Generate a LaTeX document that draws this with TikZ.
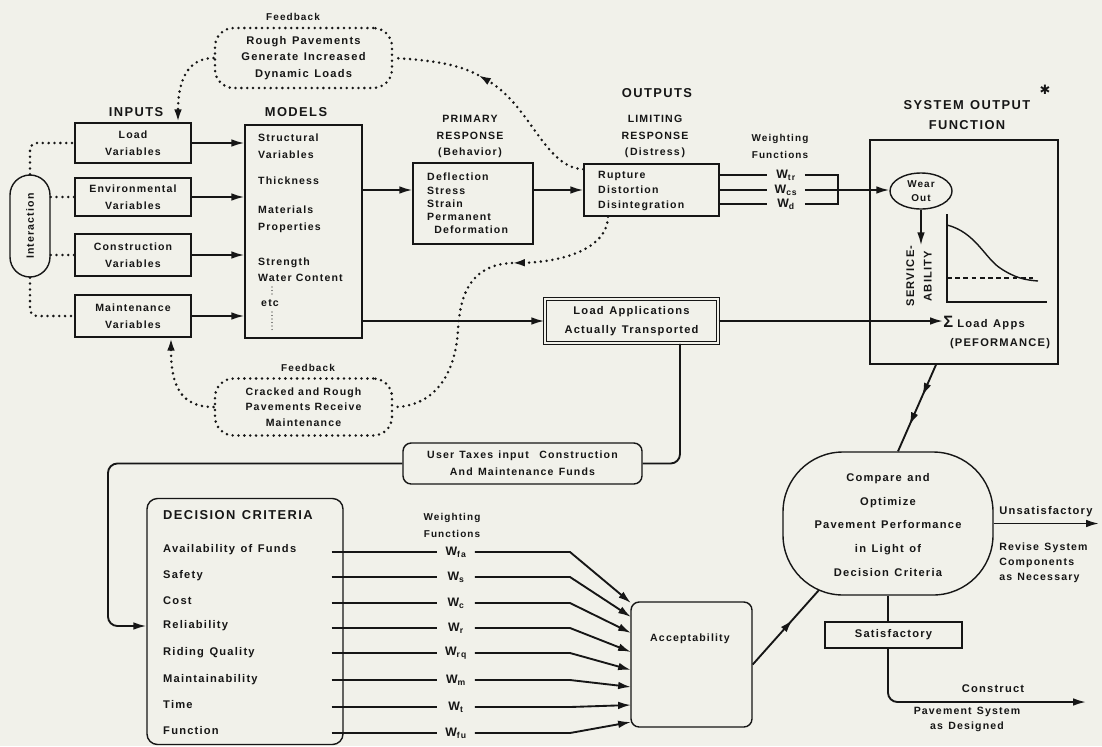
\documentclass[tikz,border=0pt]{standalone}
\usepackage{fontspec}
\setmainfont{Liberation Sans}[UprightFont=* Bold, LetterSpace=11.0]
\newfontfamily\djv{DejaVu Sans}
\usetikzlibrary{arrows.meta,decorations.markings,shapes.geometric}
\definecolor{bgc}{RGB}{241,241,234}
\definecolor{ink}{RGB}{22,22,22}
\newcommand\fBody{\fontsize{9.5}{14.5}\selectfont}
\newcommand\fBox{\fontsize{9}{14.5}\selectfont}
\newcommand\fSmall{\fontsize{8.5}{14.5}\selectfont}
\newcommand\fTitle{\fontsize{11}{17}\selectfont}
\newcommand\fWlab{\fontsize{10.5}{12}\selectfont}
\tikzset{
  box/.style={draw=ink, line width=1.2pt, inner sep=0pt, align=center, text=ink, font=\fBox},
  rbox/.style={box, rounded corners=7pt},
  lbl/.style={inner sep=0pt, align=center, text=ink},
  dots/.style={draw=ink, line width=2.4pt, line cap=round, dash pattern=on 0pt off 5pt},
  cloudbox/.style={dots, rounded corners=16pt, inner sep=0pt, align=center, text=ink},
  lnk/.style={draw=ink, line width=1.6pt},
  ltip/.tip={Latex[length=11pt,width=6.5pt]},
  arr/.style={lnk, -ltip},
  darr/.style={dots, -ltip},
  wlab/.style={lbl, minimum width=1.12cm, font=\fWlab},
  midarr/.style={postaction={decorate}, decoration={markings, mark=at position #1 with {\arrow{ltip}}}},
  twoarr/.style={postaction={decorate}, decoration={markings, mark=at position 0.36 with {\arrow{ltip}}, mark=at position 0.7 with {\arrow{ltip}}}},
}
\begin{document}
\begin{tikzpicture}[x=0.03cm, y=-0.03cm, font=\fBody]
\fill[bgc] (0,0) rectangle (1102,746);
\useasboundingbox (0,0) rectangle (1102,746);

% ---------- titles ----------
\node[lbl, font=\fTitle] (tin) at (136,112) {INPUTS};
\node[lbl, font=\fTitle] (tmod) at (296,112) {MODELS};
\node[lbl, font=\fTitle] (tout) at (657,93) {OUTPUTS};
\node[lbl, font=\fontsize{9}{14}\selectfont] (tprim) at (470,136.5) {PRIMARY\\RESPONSE\\(\,Behavior\,)};
\node[lbl, font=\fontsize{9}{14}\selectfont] (tlim) at (655,136.5) {LIMITING\\RESPONSE\\(\,Distress\,)};
\node[lbl, font=\fSmall] (twf1) at (780,146.5) {Weighting\\Functions};
\node[lbl, font=\fTitle] (tsys) at (967,115) {SYSTEM\enspace OUTPUT\\FUNCTION};
\node[lbl, font=\djv\fontsize{11}{11}\selectfont] (star) at (1045,90) {✱};

% ---------- top feedback ----------
\node[lbl, font=\fSmall] (fb1lbl) at (293,17) {Feedback};
\node[cloudbox, minimum width=5.31cm, minimum height=1.8cm, font=\fontsize{9.5}{14}\selectfont] (fb1) at (303.5,58) {Rough\enspace Pavements\\Generate\enspace Increased\\Dynamic\enspace Loads};

% ---------- inputs ----------
\node[box, minimum width=3.48cm, minimum height=1.2cm] (load) at (133,143) {Load\\Variables};
\node[box, minimum width=3.48cm, minimum height=1.14cm] (env) at (133,197) {Environmental\\Variables};
\node[box, minimum width=3.48cm, minimum height=1.26cm] (constr) at (133,255) {Construction\\Variables};
\node[box, minimum width=3.48cm, minimum height=1.26cm] (maint) at (133,316) {Maintenance\\Variables};

\node[box, rounded corners=0.6cm, minimum width=1.2cm, minimum height=3.06cm] (pill) at (30,226) {};
\node[lbl, rotate=90, font=\fBox] (pilltxt) at (30,226) {Interaction};

% ---------- models ----------
\node[box, minimum width=3.51cm, minimum height=6.39cm] (models) at (303.5,231.5) {};
\node[lbl, anchor=west, align=left, font=\fBox] (m1) at (258,146.5) {Structural\\Variables};
\node[lbl, anchor=west, align=left, font=\fBox] (m2) at (258,181) {Thickness};
\node[lbl, anchor=west, align=left, font=\fBox] (m3) at (258,219.5) {Materials\\Properties};
\node[lbl, anchor=west, align=left, font=\fontsize{9}{13.6}\selectfont] (m4) at (258,270) {Strength\\Water Content};
\node[lbl, anchor=west, font=\fBox] (m5) at (261,303) {etc};
\draw[ink, line width=1pt, line cap=round, dash pattern=on 0pt off 3pt] (272,287) -- (272,297);
\draw[ink, line width=1pt, line cap=round, dash pattern=on 0pt off 3pt] (272,312) -- (272,331);

% ---------- responses ----------
\node[box, minimum width=3.6cm, minimum height=2.43cm] (prim) at (473,203.5) {};
\node[lbl, anchor=west, align=left, font=\fontsize{9}{11.3}\selectfont] (primtxt) at (427,203.5) {Deflection\\Stress\\Strain\\Permanent\\\hspace*{6pt}Deformation};
\node[box, minimum width=4.05cm, minimum height=1.56cm] (lim) at (651.5,190) {};
\node[lbl, anchor=west, align=left, font=\fontsize{9}{12.8}\selectfont] (limtxt) at (598,190.5) {Rupture\\Distortion\\Disintegration};

\node[wlab] (wtr) at (786,175) {W\textsubscript{tr}};
\node[wlab] (wcs) at (786,190) {W\textsubscript{cs}};
\node[wlab] (wd)  at (786,204) {W\textsubscript{d}};
\coordinate (brk) at (838,190);

% ---------- system output ----------
\node[box, minimum width=5.64cm, minimum height=6.72cm] (sys) at (964,252) {};
\node[draw=ink, line width=1.2pt, ellipse, minimum width=1.86cm, minimum height=1.08cm, inner sep=0pt, align=center, text=ink, font=\fontsize{8.5}{12}\selectfont] (wear) at (921,191) {Wear\\Out};
\node[lbl, rotate=90, font=\fontsize{9.5}{15}\selectfont] (serv) at (919,276) {SERVICE-\\ABILITY};
\draw[ink, line width=1.2pt] (947,214) -- (947,302) -- (1047,302);
\draw[ink, line width=1.2pt] (947,225) .. controls (975,232) and (985,258) .. (1000,268) .. controls (1015,278) and (1025,280) .. (1038,281);
\draw[ink, line width=1.1pt, dash pattern=on 4pt off 3pt] (947,278) -- (1033,278);
\node[lbl, anchor=west, font=\fBody] (sigma) at (943,323) {{\fontsize{14}{14}\selectfont Σ} Load\enspace Apps};
\node[lbl, font=\fBody] (perf) at (1000,344) {(PEFORMANCE)};

% ---------- load applications ----------
\node[box, double=bgc, line width=0.9pt, double distance=1.5pt, minimum width=5.2cm, minimum height=1.34cm, font=\fontsize{9.5}{16}\selectfont] (la) at (631.5,321) {Load\enspace Applications\\Actually\enspace Transported};

% ---------- bottom feedback ----------
\node[lbl, font=\fSmall] (fb2lbl) at (308,368) {Feedback};
\node[cloudbox, minimum width=5.31cm, minimum height=1.71cm, font=\fontsize{9}{13.3}\selectfont] (fb2) at (303.5,407) {Cracked and Rough\\Pavements Receive\\Maintenance};

% ---------- user taxes ----------
\node[rbox, minimum width=7.17cm, minimum height=1.23cm, font=\fontsize{9}{14.5}\selectfont] (ut) at (522.5,463.5) {User\enspace Taxes\enspace input\quad Construction\\And\enspace Maintenance\enspace Funds};

% ---------- decision criteria ----------
\node[rbox, rounded corners=9pt, minimum width=5.88cm, minimum height=7.38cm] (dec) at (245,621.5) {};
\node[lbl, anchor=west, font=\fTitle] (dectitle) at (163,515) {DECISION\enspace CRITERIA};
\node[lbl, anchor=west, font=\fBody] (c1) at (163,550) {Availability\enspace of\enspace Funds};
\node[lbl, anchor=west, font=\fBody] (c2) at (163,576) {Safety};
\node[lbl, anchor=west, font=\fBody] (c3) at (163,601) {Cost};
\node[lbl, anchor=west, font=\fBody] (c4) at (163,626) {Reliability};
\node[lbl, anchor=west, font=\fBody] (c5) at (163,653) {Riding\enspace Quality};
\node[lbl, anchor=west, font=\fBody] (c6) at (163,680) {Maintainability};
\node[lbl, anchor=west, font=\fBody] (c7) at (163,705) {Time};
\node[lbl, anchor=west, font=\fBody] (c8) at (163,731) {Function};

\node[lbl, font=\fSmall] (twf2) at (452,525) {Weighting\\Functions};
\node[wlab] (w1) at (456,552) {W\textsubscript{fa}};
\node[wlab] (w2) at (456,577) {W\textsubscript{s}};
\node[wlab] (w3) at (456,603) {W\textsubscript{c}};
\node[wlab] (w4) at (456,628) {W\textsubscript{r}};
\node[wlab] (w5) at (456,653) {W\textsubscript{rq}};
\node[wlab] (w6) at (456,680) {W\textsubscript{m}};
\node[wlab] (w7) at (456,707) {W\textsubscript{t}};
\node[wlab] (w8) at (456,733) {W\textsubscript{fu}};

\node[rbox, minimum width=3.63cm, minimum height=3.75cm] (acc) at (691.5,664.5) {};
\node[lbl, font=\fBox] (acctxt) at (690,639) {Acceptability};
\coordinate (turn) at (570,0);
\coordinate (t1) at (631,603);
\coordinate (t2) at (631,617);
\coordinate (t3) at (631,633);
\coordinate (t4) at (631,652);
\coordinate (t5) at (631,670);
\coordinate (t6) at (631,687);
\coordinate (t7) at (631,705);
\coordinate (t8) at (631,722);

% ---------- compare ----------
\node[box, rounded corners=1.8cm, minimum width=6.3cm, minimum height=4.29cm] (cmp) at (888,523.5) {};
\node[lbl, font=\fontsize{9.5}{20.3}\selectfont] (cmptxt) at (888,525) {Compare\enspace and\\Optimize\\Pavement\enspace Performance\\in\enspace Light\enspace of\\Decision\enspace Criteria};
\coordinate (cmpin) at (819,590);
\coordinate (unsEnd) at (1099,526);
\node[lbl, anchor=west, font=\fBody] (unsat) at (999,512) {Unsatisfactory};
\node[lbl, anchor=west, align=left, font=\fontsize{9}{12.8}\selectfont] (revise) at (999,563) {Revise\enspace System\\Components\\as\enspace Necessary};
\node[box, minimum width=4.11cm, minimum height=0.78cm, font=\fBody] (sat) at (893.5,635) {Satisfactory};
\coordinate (conEnd) at (1086,702);
\node[lbl, font=\fBody] (construct) at (993,689) {Construct};
\node[lbl, font=\fontsize{9}{13}\selectfont] (pavsys) at (967,719.5) {Pavement\enspace System\\as\enspace Designed};

% ================= connectors =================
\draw[arr] (load.east) -- (load.east -| models.west);
\draw[arr] (env.east) -- (env.east -| models.west);
\draw[arr] (constr.east) -- (constr.east -| models.west);
\draw[arr] (maint.east) -- (maint.east -| models.west);
\draw[arr] (models.east |- lim.west) -- (prim.west |- lim.west);
\draw[arr] (prim.east |- lim.west) -- (lim.west);
\draw[arr] (models.east |- la.west) -- (la.west);
\draw[arr] (la.east) -- (la.east -| sigma.west);

\draw[lnk] (lim.east |- wtr) -- (wtr.west);
\draw[lnk] (lim.east |- wcs) -- (wcs.west);
\draw[lnk] (lim.east |- wd) -- (wd.west);
\draw[lnk] (wtr.east) -| (brk);
\draw[lnk] (wd.east) -| (brk);
\draw[arr] (wcs.east) -- (wcs.east -| wear.west);
\draw[arr] (wear.south) -- (wear.south |- serv.east);

\draw[lnk, rounded corners=8pt] ([xshift=1.455cm]la.south) |- (ut.east);
\coordinate (loopc) at (108,626);
\draw[arr, rounded corners=8pt] (ut.west) -| (loopc) -- (loopc -| dec.west);

\foreach \i in {1,...,8}{
  \draw[lnk] ([xshift=-0.36cm]dec.east |- w\i) -- (w\i.west);
  \draw[arr] (w\i.east) -- (w\i.east -| turn) -- (t\i);
}

\draw[lnk, midarr=0.6] (acc.east) -- (cmpin);
\draw[lnk, twoarr] ([xshift=-0.84cm]sys.south) -- ([xshift=0.3cm]cmp.north);
\draw[arr] (cmp.east) -- (cmp.east -| unsEnd);
\draw[lnk] (cmp.south) -- (cmp.south |- sat.north);
\draw[arr, rounded corners=8pt] (cmp.south |- sat.south) |- (conEnd);

% dotted feedback and interaction links
\draw[darr] (fb1.west) .. controls (185,58) and (178,85) .. ([xshift=1.35cm]load.north);
\coordinate (fbA) at (478,75);
\draw[darr] ([yshift=-0.18cm]lim.north west) .. controls (545,168) and (530,105) .. (fbA);
\draw[dots] (fbA) .. controls (458,64) and (430,60) .. (fb1.east);
\coordinate (fbB) at (512,263);
\draw[darr] ([xshift=-1.305cm]lim.south) .. controls (607,250) and (560,262) .. (fbB);
\draw[dots] (fbB) .. controls (470,265) and (460,295) .. (458,330) .. controls (455,380) and (430,407) .. (fb2.east);
\draw[darr] (fb2.west) .. controls (180,407) and (171,385) .. ([xshift=1.14cm]maint.south);

\draw[dots, rounded corners=6pt] (pill.north) |- (load.west);
\draw[dots] (pill.east |- env.west) -- (env.west);
\draw[dots] (pill.east |- constr.west) -- (constr.west);
\draw[dots, rounded corners=6pt] (pill.south) |- (maint.west);
\end{tikzpicture}
\end{document}
